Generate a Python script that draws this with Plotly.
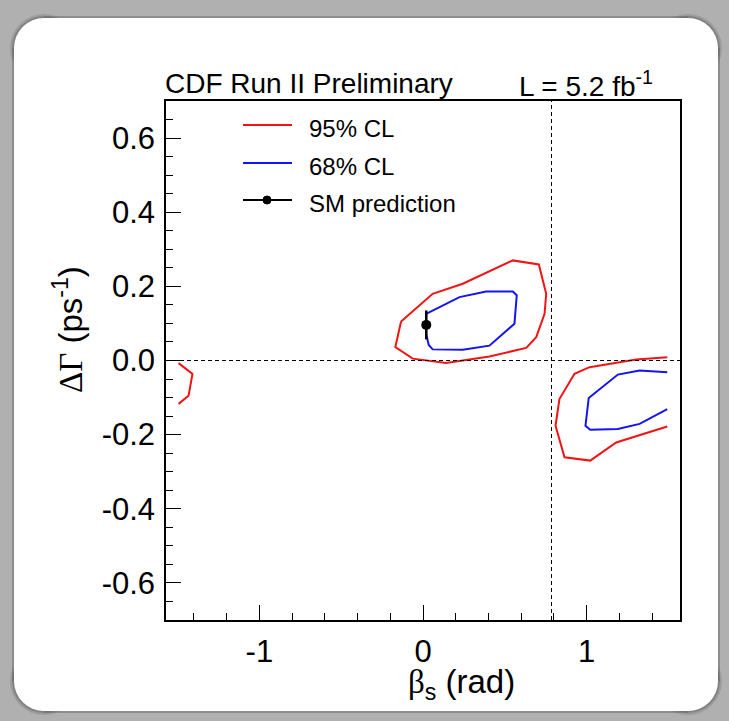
import math
import plotly.graph_objects as go

# ---------------- data ----------------
# central region, 95% CL (closed)
c95_main_x = [-0.134, 0.059, 0.243, 0.549, 0.708, 0.753, 0.743, 0.692, 0.631, 0.406, 0.141, -0.063, -0.169, -0.134]
c95_main_y = [0.105, 0.180, 0.207, 0.270, 0.259, 0.180, 0.126, 0.063, 0.034, 0.011, -0.007, 0.005, 0.036, 0.105]
# central region, 68% CL (closed)
c68_main_x = [0.019, 0.223, 0.386, 0.549, 0.573, 0.559, 0.406, 0.243, 0.059, 0.035, 0.019, 0.019]
c68_main_y = [0.126, 0.171, 0.186, 0.186, 0.176, 0.099, 0.040, 0.029, 0.030, 0.042, 0.072, 0.126]
# right region, 95% CL (open at the edge)
c95_right_x = [1.493, 1.303, 1.018, 0.926, 0.834, 0.810, 0.865, 1.022, 1.181, 1.493]
c95_right_y = [0.009, 0.003, -0.018, -0.036, -0.104, -0.176, -0.261, -0.270, -0.221, -0.178]
# right region, 68% CL (open at the edge)
c68_right_x = [1.493, 1.324, 1.191, 1.013, 0.993, 1.022, 1.191, 1.324, 1.493]
c68_right_y = [-0.032, -0.027, -0.038, -0.101, -0.176, -0.187, -0.185, -0.171, -0.131]
# left edge fragment, 95% CL
c95_left_x = [-1.494, -1.409, -1.433, -1.494]
c95_left_y = [-0.007, -0.036, -0.095, -0.117]

# Standard Model prediction
sm_x = [0.02]
sm_y = [0.096]
sm_err = [0.039]

# reference lines
hline_y = 0.0
vline_x = math.pi / 4

# axes
x_range = [-math.pi / 2, math.pi / 2]
y_range = [-0.7, 0.7]
x_tickvals = [-1, 0, 1]
x_ticktext = ["-1", "0", "1"]
y_tickvals = [-0.6, -0.4, -0.2, 0.0, 0.2, 0.4, 0.6]
y_ticktext = ["-0.6", "-0.4", "-0.2", "0.0", "0.2", "0.4", "0.6"]

legend_labels = ["95% CL", "68% CL", "SM prediction"]

# ---------------- styling ----------------
RED = "#f21414"
BLUE = "#1414f2"
FONT = "Liberation Sans"
SERIF = "Liberation Serif"

W_FIG, H_FIG = 729, 721
L, R, T, B = 166, 680, 101, 620
PW, PH = R - L, B - T


def px(x):
    return (x - L) / PW


def py(y):
    return (B - y) / PH


fig = go.Figure()

line_w = 2
for xs, ys, col, name in [
    (c95_main_x, c95_main_y, RED, "95% CL"),
    (c95_right_x, c95_right_y, RED, "95% CL"),
    (c95_left_x, c95_left_y, RED, "95% CL"),
    (c68_main_x, c68_main_y, BLUE, "68% CL"),
    (c68_right_x, c68_right_y, BLUE, "68% CL"),
]:
    fig.add_trace(go.Scatter(x=xs, y=ys, mode="lines", name=name,
                             line=dict(color=col, width=line_w),
                             showlegend=False, hoverinfo="skip"))

fig.add_trace(go.Scatter(x=sm_x, y=sm_y, mode="markers", name="SM prediction",
                         marker=dict(color="black", size=10),
                         error_y=dict(type="data", array=sm_err, color="black",
                                      thickness=2.5, width=0),
                         showlegend=False))

fig.add_hline(y=hline_y, line=dict(color="black", width=1, dash="4px,3px"))
fig.add_vline(x=vline_x, line=dict(color="black", width=1, dash="4px,3px"))

# ---------------- background frame (white rounded card on grey) ----------------
x0, x1, y0, y1, rr = 14, 718, 18, 711, 30
shapes = []
# soft dark edge around the card
for grow, col in [(4, "rgba(120,120,120,0.35)"), (2, "rgba(100,100,100,0.45)")]:
    shapes.append(dict(type="rect", xref="paper", yref="paper", layer="below",
                       x0=px(x0 + rr), x1=px(x1 - rr), y0=py(y0 - grow), y1=py(y1 + grow),
                       fillcolor=col, line=dict(width=0)))
    shapes.append(dict(type="rect", xref="paper", yref="paper", layer="below",
                       x0=px(x0 - grow), x1=px(x1 + grow), y0=py(y0 + rr), y1=py(y1 - rr),
                       fillcolor=col, line=dict(width=0)))
    for cx, cy in [(x0 + rr, y0 + rr), (x1 - rr, y0 + rr), (x0 + rr, y1 - rr), (x1 - rr, y1 - rr)]:
        shapes.append(dict(type="circle", xref="paper", yref="paper", layer="below",
                           x0=px(cx - rr - grow), x1=px(cx + rr + grow),
                           y0=py(cy - rr - grow), y1=py(cy + rr + grow),
                           fillcolor=col, line=dict(width=0)))
shapes.append(dict(type="rect", xref="paper", yref="paper", layer="below",
                   x0=px(x0 + rr), x1=px(x1 - rr), y0=py(y0), y1=py(y1),
                   fillcolor="white", line=dict(width=0)))
shapes.append(dict(type="rect", xref="paper", yref="paper", layer="below",
                   x0=px(x0), x1=px(x1), y0=py(y0 + rr), y1=py(y1 - rr),
                   fillcolor="white", line=dict(width=0)))
for cx, cy in [(x0 + rr, y0 + rr), (x1 - rr, y0 + rr), (x0 + rr, y1 - rr), (x1 - rr, y1 - rr)]:
    shapes.append(dict(type="circle", xref="paper", yref="paper", layer="below",
                       x0=px(cx - rr), x1=px(cx + rr), y0=py(cy - rr), y1=py(cy + rr),
                       fillcolor="white", line=dict(width=0)))

# ---------------- legend (drawn by hand, ROOT style) ----------------
leg_rows = [(125, RED), (163, BLUE), (200, "black")]
annotations = []
for (yy, col), lab in zip(leg_rows, legend_labels):
    shapes.append(dict(type="line", xref="paper", yref="paper", layer="above",
                       x0=px(243), x1=px(292), y0=py(yy), y1=py(yy),
                       line=dict(color=col, width=2)))
    annotations.append(dict(x=px(307), y=py(yy + 3), xref="paper", yref="paper",
                            text=lab, showarrow=False, xanchor="left", yanchor="middle",
                            font=dict(family=FONT, size=24, color="black")))
shapes.append(dict(type="circle", xref="paper", yref="paper", layer="above",
                   x0=px(263), x1=px(271), y0=py(196), y1=py(204),
                   fillcolor="black", line=dict(color="black", width=1)))

# titles
annotations += [
    dict(x=px(163), y=py(84), xref="paper", yref="paper", text="CDF Run II Preliminary",
         showarrow=False, xanchor="left", yanchor="middle",
         font=dict(family=FONT, size=28, color="black")),
    dict(x=px(517), y=py(84), xref="paper", yref="paper", text="L = 5.2 fb<sup>-1</sup>",
         showarrow=False, xanchor="left", yanchor="middle",
         font=dict(family=FONT, size=28, color="black")),
    dict(x=px(68), y=py(330), xref="paper", yref="paper",
         text=f"<span style='font-family:{SERIF}'>ΔΓ</span> (ps<sup>-1</sup>)",
         showarrow=False, textangle=-90, xanchor="center", yanchor="middle",
         font=dict(family=FONT, size=33, color="black")),
    dict(x=px(461), y=py(684), xref="paper", yref="paper",
         text=f"<span style='font-family:{SERIF}'>β</span><sub>s</sub> (rad)",
         showarrow=False, xanchor="center", yanchor="middle",
         font=dict(family=FONT, size=33, color="black")),
]

axis_common = dict(
    showgrid=False, zeroline=False, showline=True, linecolor="black", linewidth=1.5,
    mirror=True, ticks="inside", ticklen=15, tickwidth=1, tickcolor="black",
    tickfont=dict(family=FONT, size=31, color="black"),
)

fig.update_layout(
    width=W_FIG, height=H_FIG, autosize=False,
    margin=dict(l=L, r=W_FIG - R, t=T, b=H_FIG - B, pad=0),
    paper_bgcolor="#b0b0b0", plot_bgcolor="white",
    showlegend=False,
    xaxis=dict(range=x_range, tickmode="array", tickvals=x_tickvals, ticktext=x_ticktext,
               ticklabelstandoff=3,
               minor=dict(ticks="inside", ticklen=7, tickmode="linear", tick0=0, dtick=0.2,
                          tickcolor="black", tickwidth=1),
               **axis_common),
    yaxis=dict(range=y_range, tickmode="array", tickvals=y_tickvals, ticktext=y_ticktext,
               ticklabelstandoff=3,
               minor=dict(ticks="inside", ticklen=7, tickmode="linear", tick0=0, dtick=0.05,
                          tickcolor="black", tickwidth=1),
               **axis_common),
    shapes=shapes,
    annotations=annotations,
)

fig.write_html("out.html")
